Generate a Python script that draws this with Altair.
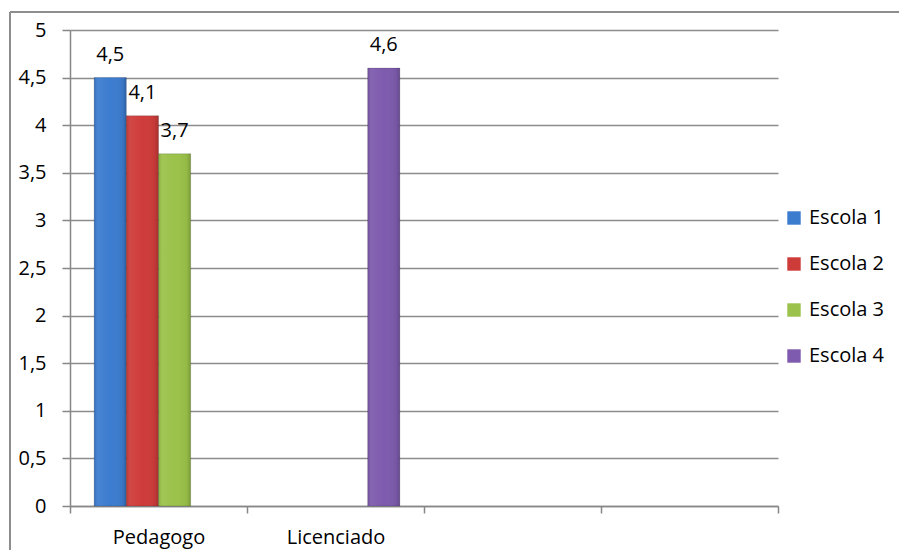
import altair as alt
import pandas as pd

# Categories on the x axis (the last two slots are left unlabelled)
categories = ["Pedagogo", "Licenciado", " ", "  "]
series = ["Escola 1", "Escola 2", "Escola 3", "Escola 4"]
colors = ["#3C7CCF", "#CE3C3A", "#9BC24A", "#7E5BAE"]

# Bar values: category, school, score
bar_category = ["Pedagogo", "Pedagogo", "Pedagogo", "Licenciado"]
bar_series = ["Escola 1", "Escola 2", "Escola 3", "Escola 4"]
bar_value = [4.5, 4.1, 3.7, 4.6]

df = pd.DataFrame({"cat": bar_category, "escola": bar_series, "valor": bar_value})

FONT = "Open Sans"
FS = 20
W, H = 708, 476

x_enc = alt.X(
    "cat:N",
    scale=alt.Scale(domain=categories, paddingInner=0, paddingOuter=0),
    axis=alt.Axis(
        title=None, labelAngle=0, tickBand="extent", grid=False,
        domainColor="#878787", tickColor="#878787", domainWidth=1.5, tickWidth=1.5,
        tickSize=7, labelFont=FONT, labelFontSize=FS, labelColor="#000000",
        labelPadding=14,
    ),
)
x_off = alt.XOffset(
    "escola:N",
    scale=alt.Scale(domain=series, paddingInner=0, paddingOuter=0.75),
)
y_enc = alt.Y(
    "valor:Q",
    scale=alt.Scale(domain=[0, 5], nice=False),
    axis=alt.Axis(
        title=None, values=[0, 0.5, 1, 1.5, 2, 2.5, 3, 3.5, 4, 4.5, 5],
        labelExpr="replace(toString(datum.value), '.', ',')",
        grid=True, gridColor="#8C8C8C", gridWidth=1.3,
        domainColor="#878787", tickColor="#878787", domainWidth=1.5, tickWidth=1.5,
        tickSize=8, labelFont=FONT, labelFontSize=FS, labelColor="#000000",
        labelPadding=16,
    ),
)

bars = alt.Chart(df).mark_bar(stroke="#00000030", strokeWidth=0.8).encode(
    x=x_enc, xOffset=x_off, y=y_enc,
    color=alt.Color(
        "escola:N",
        scale=alt.Scale(domain=series, range=colors),
        legend=alt.Legend(
            title=None, orient="none", legendX=714, legendY=178,
            symbolType="square", symbolSize=180, symbolStrokeWidth=0,
            labelFont=FONT, labelFontSize=FS, labelColor="#000000",
            rowPadding=26, labelOffset=5,
        ),
    ),
)

# Subtle cylindrical shading on each bar
shade = alt.Chart(df).mark_bar(
    fill=alt.Gradient(
        gradient="linear", x1=0, x2=1, y1=0, y2=0,
        stops=[
            alt.GradientStop(offset=0, color="rgba(0,0,0,0.12)"),
            alt.GradientStop(offset=0.12, color="rgba(255,255,255,0.06)"),
            alt.GradientStop(offset=0.5, color="rgba(255,255,255,0.0)"),
            alt.GradientStop(offset=0.88, color="rgba(0,0,0,0.05)"),
            alt.GradientStop(offset=1, color="rgba(0,0,0,0.2)"),
        ],
    )
).encode(x=x_enc, xOffset=x_off, y=y_enc)

labels = alt.Chart(df).transform_calculate(
    rotulo="replace(format(datum.valor, '.1f'), '.', ',')"
).mark_text(
    font=FONT, fontSize=FS, color="#000000", baseline="alphabetic", dy=-17
).encode(x=x_enc, xOffset=x_off, y=y_enc, text="rotulo:N")

# Outer chart frame: top and left edges (the others fall outside the page)
frame_top = alt.Chart(df).mark_rule(
    stroke="#8C8C8C", strokeWidth=1.3, clip=False
).encode(x=alt.value(-60), x2=alt.value(W + 300), y=alt.value(-18))
frame_left = alt.Chart(df).mark_rule(
    stroke="#8C8C8C", strokeWidth=1.3, clip=False
).encode(x=alt.value(-60), y=alt.value(-18), y2=alt.value(H + 100))

chart = alt.layer(frame_top, frame_left, bars, shade, labels).properties(
    width=W, height=H, background="white",
    padding={"left": 70, "top": 30, "right": 121, "bottom": 44},
    autosize=alt.AutoSizeParams(type="none"),
).configure_view(strokeWidth=0, stroke="transparent")

chart.save("out.html", embed_options={"renderer": "svg", "actions": False})
